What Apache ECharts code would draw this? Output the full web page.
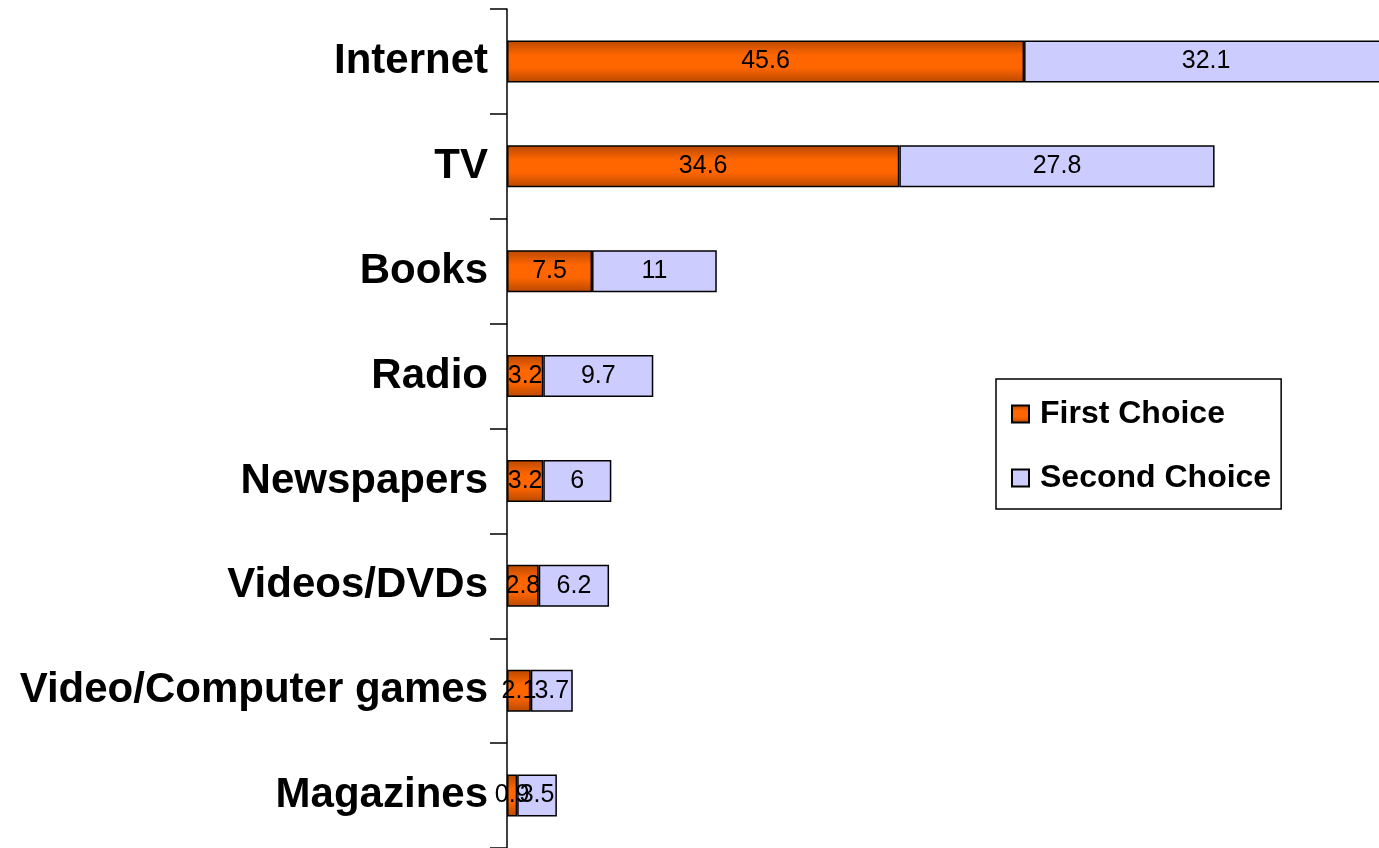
<!DOCTYPE html>
<html>
<head>
<meta charset="utf-8">
<script src="https://cdn.jsdelivr.net/npm/echarts@6/dist/echarts.min.js"></script>
<style>
  html, body { margin: 0; padding: 0; background: #fff; }
  #chart { width: 1379px; height: 848px; }
</style>
</head>
<body>
<div id="chart"></div>
<script>
// media categories, top to bottom
var categories = ['Internet', 'TV', 'Books', 'Radio', 'Newspapers', 'Videos/DVDs', 'Video/Computer games', 'Magazines']
var firstChoice = [45.6, 34.6, 7.5, 3.2, 3.2, 2.8, 2.1, 0.9]
var secondChoice = [32.1, 27.8, 11, 9.7, 6, 6.2, 3.7, 3.5]

var font = 'Liberation Sans, Arial, sans-serif'

var myChart = echarts.init(document.getElementById('chart'))

var orange = new echarts.graphic.LinearGradient(0, 0, 0, 1, [
  { offset: 0, color: '#B84800' },
  { offset: 0.35, color: '#FF6600' },
  { offset: 0.65, color: '#FF6600' },
  { offset: 1, color: '#B84800' }
])

var barLabel = {
  show: true,
  position: 'inside',
  color: '#000',
  fontFamily: font,
  fontSize: 25,
  formatter: function (p) { return String(p.value) }
}

var options = {
  animation: false,
  grid: {
    left: 507,
    right: 0,
    top: 9,
    bottom: 0,
    containLabel: false
  },
  legend: {
    orient: 'vertical',
    left: 996,
    top: 379,
    padding: [19, 10, 15, 15],
    itemGap: 32,
    itemWidth: 17,
    itemHeight: 17,
    icon: 'rect',
    borderColor: '#000',
    borderWidth: 1.5,
    backgroundColor: '#fff',
    textStyle: {
      color: '#000',
      fontFamily: font,
      fontWeight: 'bold',
      fontSize: 32,
      lineHeight: 30,
      padding: [0, 0, 0, 6]
    },
    data: ['First Choice', 'Second Choice']
  },
  xAxis: {
    type: 'value',
    min: 0,
    max: 76.9,
    show: false
  },
  yAxis: {
    type: 'category',
    inverse: true,
    data: categories,
    axisLine: { lineStyle: { color: '#000', width: 1.5 } },
    axisTick: { show: true, length: 17, lineStyle: { color: '#000', width: 1.5 } },
    axisLabel: {
      color: '#000',
      fontFamily: font,
      fontWeight: 'bold',
      fontSize: 42,
      margin: 19,
      padding: [6, 0, 0, 0]
    },
    splitLine: { show: false }
  },
  series: [
    {
      name: 'First Choice',
      type: 'bar',
      stack: 'total',
      barWidth: 42,
      clip: false,
      itemStyle: { color: orange, borderColor: '#000', borderWidth: 1.5 },
      label: barLabel,
      data: firstChoice
    },
    {
      name: 'Second Choice',
      type: 'bar',
      stack: 'total',
      barWidth: 42,
      clip: false,
      itemStyle: { color: '#CCCCFF', borderColor: '#000', borderWidth: 1.5 },
      label: barLabel,
      data: secondChoice
    }
  ]
}

myChart.setOption(options, true)
</script>
</body>
</html>
